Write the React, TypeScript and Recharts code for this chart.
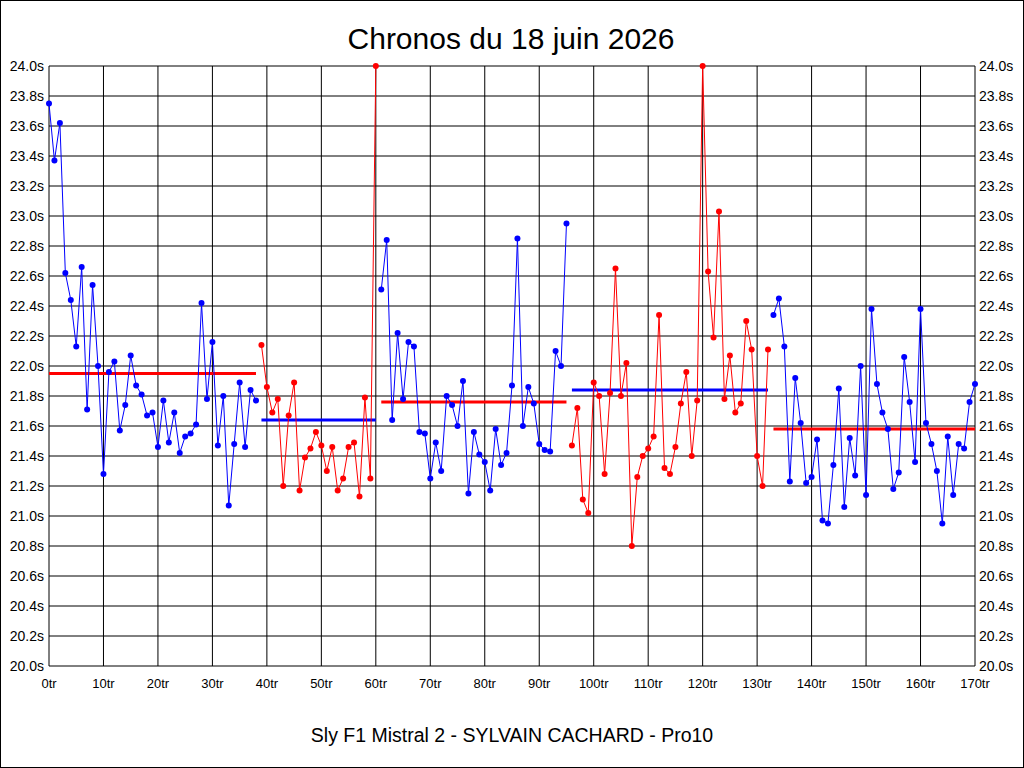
import React from 'react';
import { LineChart, Line, XAxis, YAxis, CartesianGrid } from 'recharts';

// ---- Data ----
const titleText = 'Chronos du 18 juin 2026';
const footerText = 'Sly F1 Mistral 2 - SYLVAIN CACHARD - Pro10';

const stintStartLaps = [0, 39, 61, 96, 133];

const stint1 = [
  23.75, 23.37, 23.62, 22.62, 22.44, 22.13, 22.66, 21.71, 22.54, 22.0,
  21.28, 21.96, 22.03, 21.57, 21.74, 22.07, 21.87, 21.81, 21.67, 21.69,
  21.46, 21.77, 21.49, 21.69, 21.42, 21.53, 21.55, 21.61, 22.42, 21.78,
  22.16, 21.47, 21.8, 21.07, 21.48, 21.89, 21.46, 21.84, 21.77,
];
const stint2 = [
  22.14, 21.86, 21.69, 21.78, 21.2, 21.67, 21.89, 21.17, 21.39, 21.45,
  21.56, 21.47, 21.3, 21.46, 21.17, 21.25, 21.46, 21.49, 21.13, 21.79,
  21.25, 24.0,
];
const stint3 = [
  22.51, 22.84, 21.64, 22.22, 21.78, 22.16, 22.13, 21.56, 21.55, 21.25,
  21.49, 21.3, 21.8, 21.74, 21.6, 21.9, 21.15, 21.56, 21.41, 21.36,
  21.17, 21.58, 21.34, 21.42, 21.87, 22.85, 21.6, 21.86, 21.75, 21.48,
  21.44, 21.43, 22.1, 22.0, 22.95,
];
const stint4 = [
  21.47, 21.72, 21.11, 21.02, 21.89, 21.8, 21.28, 21.82, 22.65, 21.8,
  22.02, 20.8, 21.26, 21.4, 21.45, 21.53, 22.34, 21.32, 21.28, 21.46,
  21.75, 21.96, 21.4, 21.77, 24.0, 22.63, 22.19, 23.03, 21.78, 22.07,
  21.69, 21.75, 22.3, 22.11, 21.4, 21.2, 22.11,
];
const stint5 = [
  22.34, 22.45, 22.13, 21.23, 21.92, 21.62, 21.22, 21.26, 21.51, 20.97,
  20.95, 21.34, 21.85, 21.06, 21.52, 21.27, 22.0, 21.14, 22.38, 21.88,
  21.69, 21.58, 21.18, 21.29, 22.06, 21.76, 21.36, 22.38, 21.62, 21.48,
  21.3, 20.95, 21.53, 21.14, 21.48, 21.45, 21.76, 21.88,
];

const stints = [stint1, stint2, stint3, stint4, stint5];
const stintColors = ['#0000FF', '#FF0000', '#0000FF', '#FF0000', '#0000FF'];
const stintAverages = [21.95, 21.64, 21.76, 21.84, 21.58];
const averageColors = ['#FF0000', '#0000FF', '#FF0000', '#0000FF', '#FF0000'];

const xTicks = [0, 10, 20, 30, 40, 50, 60, 70, 80, 90, 100, 110, 120, 130, 140, 150, 160, 170];
const yTicks = [
  20.0, 20.2, 20.4, 20.6, 20.8, 21.0, 21.2, 21.4, 21.6, 21.8,
  22.0, 22.2, 22.4, 22.6, 22.8, 23.0, 23.2, 23.4, 23.6, 23.8, 24.0,
];
const maxLap = 170;

// ---- Table built from arrays ----
type Row = { [key: string]: number | undefined };
const table: Row[] = [];
for (let lap = 0; lap <= maxLap; lap++) {
  const row: Row = { lap };
  stints.forEach((values, i) => {
    const start = stintStartLaps[i];
    const idx = lap - start;
    if (idx >= 0 && idx < values.length) {
      row[`s${i}`] = values[idx];
      if (idx === 0 || idx === values.length - 1) {
        row[`a${i}`] = stintAverages[i];
      }
    }
  });
  table.push(row);
}

const fontFamily = '"Liberation Sans", Arial, sans-serif';

export default function App() {
  return (
    <div
      style={{
        position: 'absolute',
        left: 0,
        top: 0,
        width: 1024,
        height: 768,
        background: '#fff',
        fontFamily,
      }}
    >
      <LineChart
        width={1024}
        height={768}
        data={table}
        margin={{ top: 66, right: 0, bottom: 72, left: 0 }}
      >
        <CartesianGrid stroke="#000" strokeWidth={1} />
        <XAxis
          dataKey="lap"
          type="number"
          domain={[0, maxLap]}
          ticks={xTicks}
          interval={0}
          tickFormatter={(v: number) => `${v}tr`}
          tickLine={false}
          axisLine={false}
          tickSize={6}
          tickMargin={7}
          height={30}
          tick={{ fill: '#000', fontSize: 13, fontFamily }}
        />
        <YAxis
          yAxisId={0}
          type="number"
          domain={[20, 24]}
          ticks={yTicks}
          interval={0}
          tickFormatter={(v: number) => `${v.toFixed(1)}s`}
          tickLine={false}
          axisLine={false}
          tickSize={3}
          tickMargin={2}
          width={49}
          tick={{ fill: '#000', fontSize: 14, fontFamily }}
        />
        <YAxis
          yAxisId="right"
          orientation="right"
          type="number"
          domain={[20, 24]}
          ticks={yTicks}
          interval={0}
          tickFormatter={(v: number) => `${v.toFixed(1)}s`}
          tickLine={false}
          axisLine={false}
          tickSize={2}
          tickMargin={2}
          width={49}
          tick={{ fill: '#000', fontSize: 14, fontFamily }}
        />
        {stints.map((_, i) => (
          <Line
            key={`avg${i}`}
            yAxisId={0}
            dataKey={`a${i}`}
            type="linear"
            stroke={averageColors[i]}
            strokeWidth={3}
            dot={false}
            activeDot={false}
            connectNulls
            isAnimationActive={false}
          />
        ))}
        {stints.map((_, i) => (
          <Line
            key={`s${i}`}
            yAxisId={0}
            dataKey={`s${i}`}
            type="linear"
            stroke={stintColors[i]}
            strokeWidth={1}
            dot={{ r: 3, fill: stintColors[i], stroke: 'none', clipDot: false }}
            activeDot={false}
            connectNulls={false}
            isAnimationActive={false}
          />
        ))}
        <Line
          yAxisId="right"
          dataKey="s0"
          stroke="none"
          dot={false}
          activeDot={false}
          isAnimationActive={false}
          legendType="none"
        />
      </LineChart>
      <svg
        width={1024}
        height={768}
        style={{ position: 'absolute', left: 0, top: 0, pointerEvents: 'none' }}
      >
        <text x={511} y={49} textAnchor="middle" fontSize={30} fontFamily={fontFamily} fill="#000">
          {titleText}
        </text>
        <text x={512} y={742} textAnchor="middle" fontSize={19.5} fontFamily={fontFamily} fill="#000">
          {footerText}
        </text>
        <rect x={0.5} y={0.5} width={1023} height={767} fill="none" stroke="#000" strokeWidth={1} />
      </svg>
    </div>
  );
}
